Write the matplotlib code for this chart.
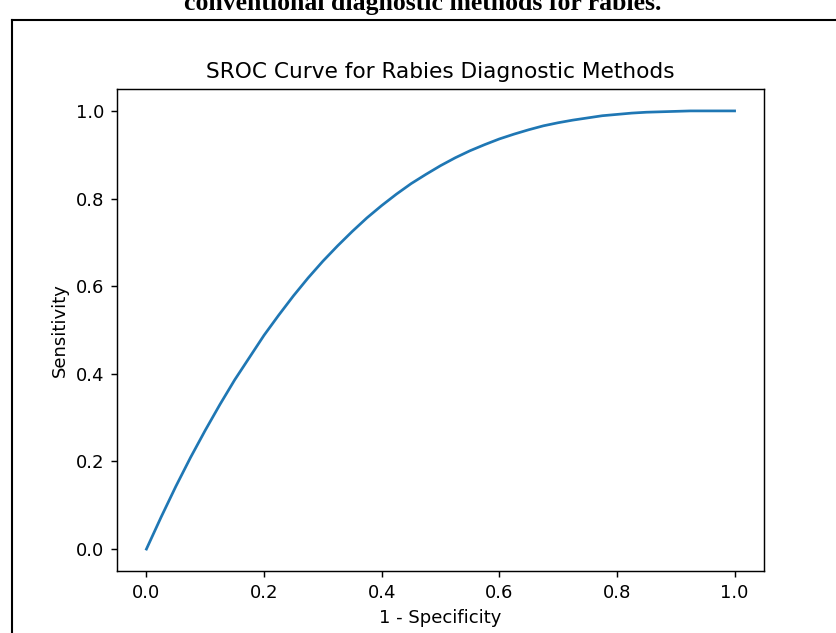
import matplotlib
matplotlib.use("Agg")
import matplotlib.pyplot as plt
from matplotlib.lines import Line2D

# 1 - specificity vs sensitivity
fpr = [0.0, 0.025, 0.05, 0.075, 0.10, 0.125, 0.15, 0.175, 0.20, 0.225, 0.25,
       0.275, 0.30, 0.325, 0.35, 0.375, 0.40, 0.425, 0.45, 0.475, 0.50,
       0.525, 0.55, 0.575, 0.60, 0.625, 0.65, 0.675, 0.70, 0.725, 0.75,
       0.775, 0.80, 0.825, 0.85, 0.875, 0.90, 0.925, 0.95, 0.975, 1.0]
tpr = [0.0, 0.073, 0.143, 0.209, 0.271, 0.330, 0.386, 0.437, 0.488, 0.534, 0.578,
       0.619, 0.657, 0.692, 0.725, 0.756, 0.784, 0.810, 0.834, 0.855, 0.875,
       0.893, 0.909, 0.923, 0.936, 0.947, 0.957, 0.966, 0.973, 0.979, 0.984,
       0.989, 0.992, 0.995, 0.997, 0.998, 0.999, 1.0, 1.0, 1.0, 1.0]
ticks = [0.0, 0.2, 0.4, 0.6, 0.8, 1.0]

W, H = 836, 633
s = 1.3  # screenshot scale of the original figure

fig = plt.figure(figsize=(W / 100, H / 100), dpi=100)
ax = fig.add_axes([117 / W, (H - 571) / H, (764 - 117) / W, (571 - 89) / H])

ax.plot(fpr, tpr, color='#1f77b4', linewidth=1.5 * s)
ax.set_xticks(ticks)
ax.set_yticks(ticks)
ax.tick_params(labelsize=10 * s, length=3.5 * s, width=0.8 * s, pad=3.5 * s)
for sp in ax.spines.values():
    sp.set_linewidth(0.8 * s)
ax.set_xlabel('1 - Specificity', fontsize=10 * s, labelpad=4 * s)
ax.set_ylabel('Sensitivity', fontsize=10 * s, labelpad=4 * s)
ax.set_title('SROC Curve for Rabies Diagnostic Methods', fontsize=12 * s, pad=6 * s)

# frame of the page around the figure (only left and top visible)
fig.add_artist(Line2D([12 / W, 12 / W], [0, 1 - 20 / H], color='black', linewidth=1.5,
                      transform=fig.transFigure))
fig.add_artist(Line2D([12 / W, 1], [1 - 20 / H, 1 - 20 / H], color='black', linewidth=1.5,
                      transform=fig.transFigure))

# caption cut off at the top of the screenshot
fig.text(423 / W, 1 - 10 / H, 'conventional diagnostic methods for rabies.',
         ha='center', va='baseline', fontsize=18.5, fontweight='bold',
         family='Liberation Serif')

fig.savefig('out.png', dpi=100)
